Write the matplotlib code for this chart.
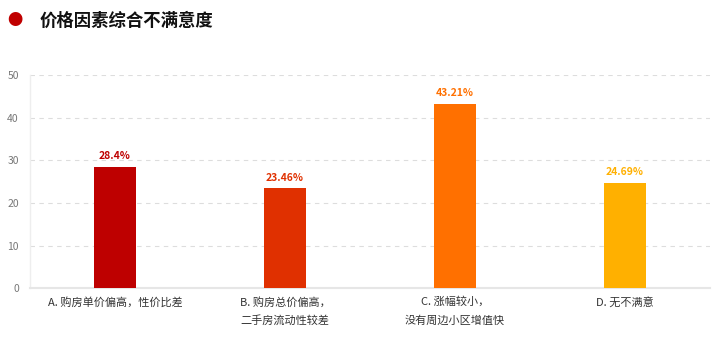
import matplotlib
matplotlib.use("Agg")
import matplotlib.pyplot as plt

plt.rcParams['font.family'] = ['Noto Sans CJK SC', 'DejaVu Sans']

# 数据
categories = ["A. 购房单价偏高，性价比差", "B. 购房总价偏高，\n二手房流动性较差",
              "C. 涨幅较小，\n没有周边小区增值快", "D. 无不满意"]
values = [28.4, 23.46, 43.21, 24.69]
value_labels = ["28.4%", "23.46%", "43.21%", "24.69%"]
colors = ["#BE0000", "#E03000", "#FF7000", "#FFB000"]
yticks = [0, 10, 20, 30, 40, 50]

fig = plt.figure(figsize=(7.22, 3.39), dpi=100)
ax = fig.add_axes([0.0416, 0.150, 0.9414, 0.629])

x = list(range(len(categories)))
bars = ax.bar(x, values, width=0.245, color=colors, zorder=3)

for rect, lab, c in zip(bars, value_labels, colors):
    ax.annotate(lab, (rect.get_x() + rect.get_width() / 2, rect.get_height()),
                xytext=(0, 4), textcoords="offset points", ha="center", va="bottom",
                fontsize=7.5, fontweight="bold", color=c)

ax.set_xlim(-0.5, len(categories) - 0.5)
ax.set_ylim(0, 50)
ax.set_yticks(yticks)
ax.set_xticks(x)
ax.set_xticklabels(categories, fontsize=8, color="#333333", linespacing=1.9,
                   multialignment="center")
ax.tick_params(axis="x", length=0, pad=6)
ax.tick_params(axis="y", length=0, pad=8, labelsize=7.5, labelcolor="#777777")

ax.yaxis.grid(True, linestyle=(0, (4, 4)), color="#DDDDDD", linewidth=0.8, zorder=0)
for s in ["top", "right"]:
    ax.spines[s].set_visible(False)
ax.spines["left"].set_color("#EEEEEE")
ax.spines["left"].set_linewidth(1.0)
ax.spines["bottom"].set_color("#E6E6E6")
ax.spines["bottom"].set_linewidth(1.5)

# 标题
fig.text(0.021, 0.94, "●", color="#C00000", fontsize=11, va="center", ha="center")
fig.text(0.055, 0.94, "价格因素综合不满意度", fontsize=12.5, fontweight="bold",
         color="#111111", va="center", ha="left")

fig.savefig("out.png", dpi=100)
